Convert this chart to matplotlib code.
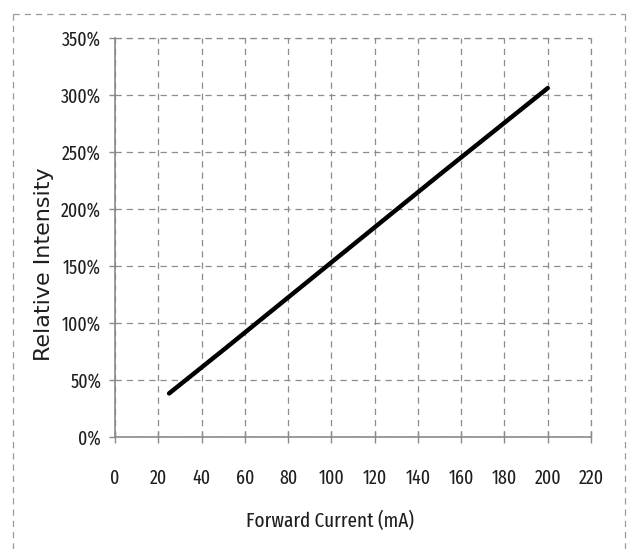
import matplotlib
matplotlib.use("Agg")
import matplotlib.pyplot as plt
from matplotlib.lines import Line2D
from matplotlib.ticker import FuncFormatter

# Data
current_ma = [25, 50, 100, 150, 200]
relative_intensity = [38, 76, 153, 230, 306]   # percent

x_ticks = list(range(0, 221, 20))
y_ticks = list(range(0, 351, 50))

TICK_FONT = "Fira Sans Extra Condensed"
LABEL_FONT = "Fira Sans Extra Condensed"
TEXT_COLOR = "#1e1e1e"

W, H = 634, 549
fig = plt.figure(figsize=(W / 100, H / 100), dpi=100)
fig.patch.set_facecolor("white")

left, right = 115 / W, 591 / W
bottom, top = (H - 436.7) / H, (H - 38) / H
ax = fig.add_axes([left, bottom, right - left, top - bottom])

ax.plot(current_ma, relative_intensity, color="black", lw=3.2,
        solid_capstyle="round", zorder=3)

ax.set_xlim(0, 220)
ax.set_ylim(0, 350)
ax.set_xticks(x_ticks)
ax.set_yticks(y_ticks)
ax.yaxis.set_major_formatter(FuncFormatter(lambda v, p: f"{int(v)}%"))

grid_color = "#8c8c8c"
dash = (0, (5, 4))
ax.grid(True, color=grid_color, lw=0.9, linestyle=dash, zorder=1)
for s in ["top", "right"]:
    ax.spines[s].set_visible(False)
for s in ["left", "bottom"]:
    ax.spines[s].set_color("#8a8a8a")
    ax.spines[s].set_linewidth(1.2)
    ax.spines[s].set_zorder(2)

ax.axhline(350, color=grid_color, lw=0.9, linestyle=dash, clip_on=False, zorder=1)
ax.axvline(220, color=grid_color, lw=0.9, linestyle=dash, clip_on=False, zorder=1)

ax.tick_params(axis="y", direction="out", length=4, width=1, color="#8a8a8a",
               pad=6, labelsize=14, labelcolor=TEXT_COLOR)
ax.tick_params(axis="x", direction="inout", length=8, width=1, color="#8a8a8a",
               pad=19, labelsize=14, labelcolor=TEXT_COLOR)
for lab in ax.get_xticklabels() + ax.get_yticklabels():
    lab.set_fontfamily(TICK_FONT)

ax.set_xlabel("Forward Current (mA)", fontsize=15, family=LABEL_FONT, color=TEXT_COLOR)
ax.xaxis.set_label_coords((329.7 - 115.2) / 476, (436.7 - 521.5) / 398.7)
ax.xaxis.label.set_va("center")
ax.set_ylabel("Relative Intensity", fontsize=16, family="DejaVu Sans", color=TEXT_COLOR)
ax.yaxis.set_label_coords((44 - 115.2) / 476, (436.7 - 264) / 398.7)
ax.yaxis.label.set_va("center")

# Outer dashed frame of the chart area
frame_kw = dict(color="#9a9a9a", lw=0.9, linestyle=dash, transform=fig.transFigure)
x0, x1 = 13 / W, 625 / W
y0, y1 = 0.0, (H - 14) / H
fig.add_artist(Line2D([x0, x1], [y1, y1], **frame_kw))
fig.add_artist(Line2D([x0, x0], [y0, y1], **frame_kw))
fig.add_artist(Line2D([x1, x1], [y0, y1], **frame_kw))

fig.savefig("out.png", dpi=100, facecolor="white")
